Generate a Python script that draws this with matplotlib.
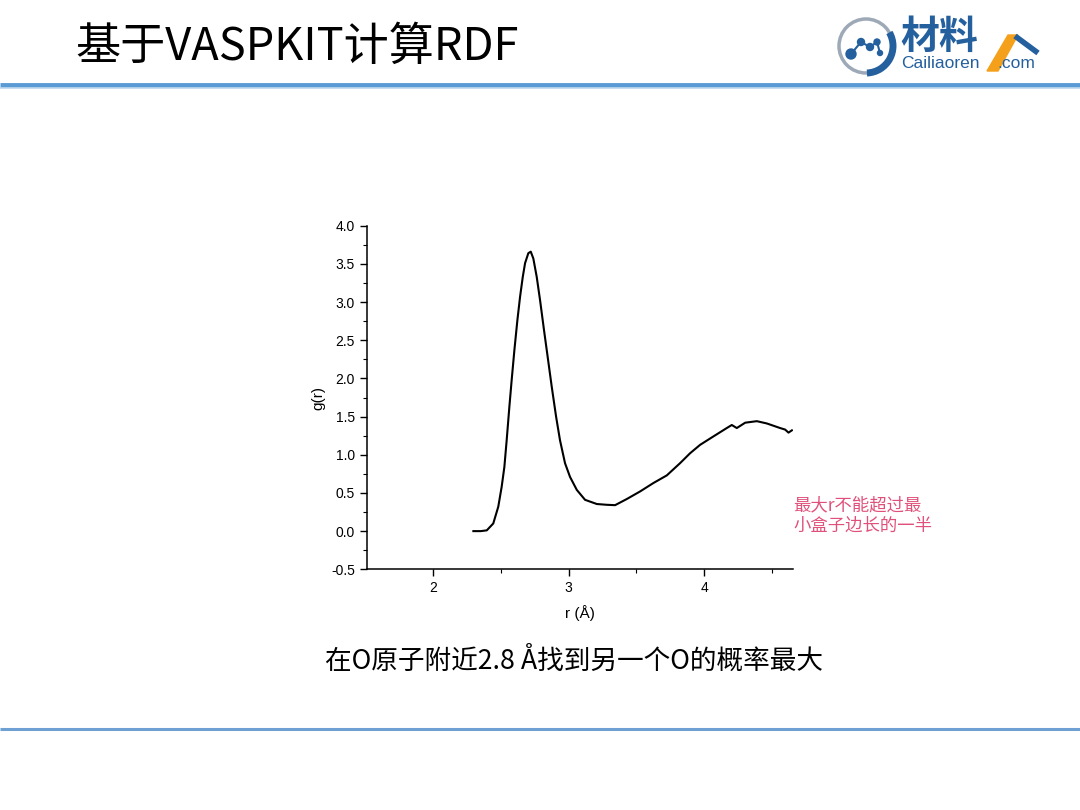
import numpy as np
import matplotlib
matplotlib.use("Agg")
import matplotlib.pyplot as plt
from matplotlib.patches import Circle, Arc, Polygon

plt.rcParams['font.family'] = ['Liberation Sans', 'Noto Sans CJK SC', 'DejaVu Sans']

# RDF data
r_vals = [2.296, 2.35, 2.395, 2.443, 2.480, 2.505, 2.525, 2.542, 2.562, 2.579,
          2.599, 2.621, 2.641, 2.661, 2.678, 2.702, 2.720, 2.739, 2.764, 2.789,
          2.818, 2.845, 2.875, 2.907, 2.936, 2.973, 3.010, 3.060, 3.121, 3.208,
          3.280, 3.343, 3.429, 3.528, 3.626, 3.725, 3.823, 3.897, 3.971, 4.069,
          4.168, 4.205, 4.242, 4.304, 4.390, 4.464, 4.562, 4.599, 4.624, 4.649]
g_vals = [0.00, 0.00, 0.01, 0.10, 0.32, 0.58, 0.84, 1.19, 1.63, 1.98,
          2.37, 2.76, 3.07, 3.33, 3.51, 3.64, 3.66, 3.57, 3.33, 3.02,
          2.63, 2.28, 1.89, 1.50, 1.19, 0.89, 0.71, 0.54, 0.41, 0.355,
          0.345, 0.34, 0.42, 0.52, 0.63, 0.73, 0.89, 1.02, 1.13, 1.24,
          1.35, 1.39, 1.35, 1.42, 1.44, 1.41, 1.35, 1.33, 1.29, 1.32]

x_ticks = [2, 3, 4]
y_ticks = [-0.5, 0.0, 0.5, 1.0, 1.5, 2.0, 2.5, 3.0, 3.5, 4.0]

W, H = 1080, 810
fig = plt.figure(figsize=(10.8, 8.1), dpi=100)

# background layer in pixel coordinates
bg = fig.add_axes([0, 0, 1, 1], zorder=0)
bg.set_xlim(0, W)
bg.set_ylim(H, 0)
bg.axis('off')

cjk = ['Noto Sans CJK SC', 'DejaVu Sans']

# title and separators
bg.text(75, 47, '基于VASPKIT计算RDF', fontsize=32.5, family=cjk, va='center', ha='left')
bg.plot([0, W], [85, 85], color='#5B9BD5', lw=3.5, solid_capstyle='butt')
bg.plot([0, W], [88, 88], color='#BDD7EE', lw=1.2, solid_capstyle='butt')
bg.plot([0, W], [729, 729], color='#6FA0D3', lw=2.2, solid_capstyle='butt')

# logo
blue = '#245F9E'
bg.add_patch(Circle((866, 46), 27, fill=False, ec='#9DA9B6', lw=2.5))
bg.add_patch(Arc((866, 46), 54, 54, theta1=-30, theta2=88, color=blue, lw=5))
for (cx, cy, rr) in [(851, 54, 5), (861, 42, 3.5), (870, 47, 3.5), (877, 42, 3), (880, 53, 2.5)]:
    bg.add_patch(Circle((cx, cy), rr, color=blue))
bg.plot([851, 861, 870, 877, 880], [54, 42, 47, 42, 53], color=blue, lw=1.5)
bg.text(900, 37, '材料', fontsize=28, family=cjk, weight='bold', color=blue,
        va='center', ha='left')
bg.add_patch(Polygon([[987, 71], [998, 71], [1018, 35], [1008, 35]], closed=True,
                     color='#F5A01A'))
bg.plot([1015, 1038], [36, 53], color=blue, lw=4, solid_capstyle='butt')
bg.text(901, 64, 'Cailiaoren', fontsize=12.5, color=blue, va='center', ha='left')
bg.text(997, 64, '.com', fontsize=12.5, color=blue, va='center', ha='left')

# annotations
bg.text(793, 505, '最大r不能超过最', fontsize=12.5, family=cjk, color='#E0507A',
        va='center', ha='left')
bg.text(793, 526, '小盒子边长的一半', fontsize=12.5, family=cjk, color='#E0507A',
        va='center', ha='left')
bg.text(325, 661, '在O原子附近2.8 Å找到另一个O的概率最大', fontsize=19.2, family=cjk,
        va='center', ha='left')

# main plot
ax = fig.add_axes([366.7 / W, 1 - 569.3 / H, (792.7 - 366.7) / W, (569.3 - 225.7) / H],
                  zorder=1)
ax.patch.set_alpha(0)
ax.plot(r_vals, g_vals, color='black', lw=1.5)
ax.set_xlim(1.508, 4.655)
ax.set_ylim(-0.5, 4.0)
ax.set_xticks(x_ticks)
ax.set_xticks([2.5, 3.5, 4.5], minor=True)
ax.set_yticks(y_ticks)
ax.set_yticks(np.arange(-0.25, 4.0, 0.5), minor=True)
ax.set_yticklabels([f'{v:.1f}' for v in y_ticks])
ax.spines['top'].set_visible(False)
ax.spines['right'].set_visible(False)
for s in ['left', 'bottom']:
    ax.spines[s].set_linewidth(1.1)
ax.tick_params(which='major', direction='out', length=5, width=1.0, labelsize=10)
ax.tick_params(which='minor', direction='out', length=3, width=0.8)
ax.set_xlabel('r (Å)', fontsize=11, labelpad=7)
ax.set_ylabel('g(r)', fontsize=11, labelpad=4)

fig.savefig('out.png', dpi=100)
